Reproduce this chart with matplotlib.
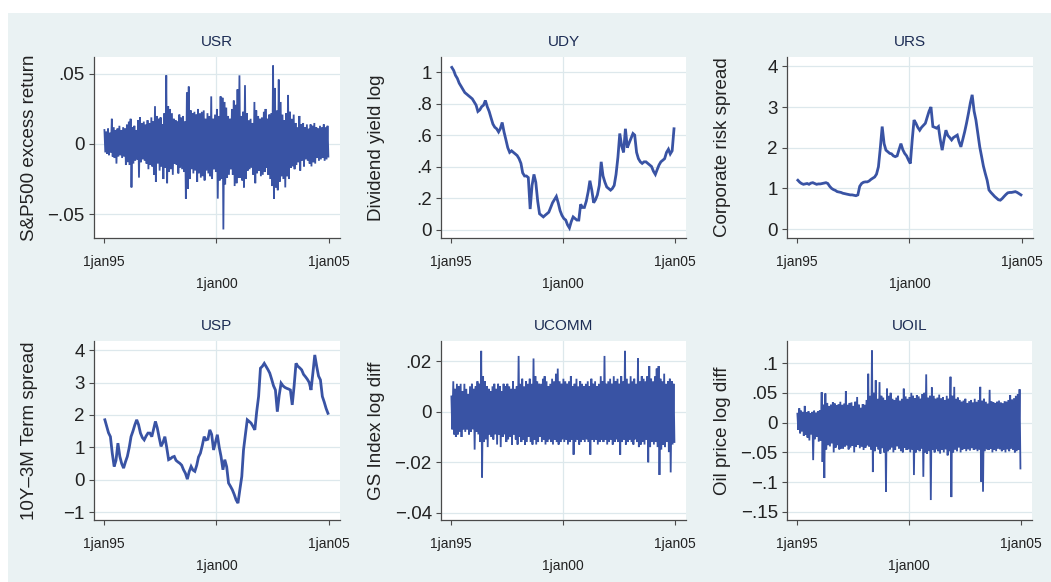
import numpy as np
import pandas as pd
import matplotlib
matplotlib.use('Agg')
import matplotlib.pyplot as plt
import matplotlib.dates as mdates
from matplotlib.patches import Rectangle

plt.rcParams['font.family'] = ['Liberation Sans', 'DejaVu Sans']

# monthly grid, jan 1995 .. dec 2004
months = pd.date_range('1995-01-01', periods=120, freq='MS')

# --- noisy series: monthly highest / lowest daily value ---
usr_hi = [0.010, 0.009, 0.011, 0.008, 0.018, 0.012, 0.010, 0.011, 0.013, 0.010, 0.012, 0.011,
          0.014, 0.016, 0.018, 0.012, 0.013, 0.010, 0.017, 0.019, 0.015, 0.016, 0.014, 0.017,
          0.015, 0.019, 0.016, 0.027, 0.020, 0.018, 0.019, 0.014, 0.022, 0.049, 0.027, 0.025,
          0.022, 0.018, 0.017, 0.016, 0.021, 0.019, 0.020, 0.016, 0.037, 0.041, 0.024, 0.022,
          0.023, 0.021, 0.025, 0.022, 0.023, 0.024, 0.018, 0.022, 0.020, 0.034, 0.018, 0.021,
          0.025, 0.020, 0.034, 0.033, 0.030, 0.026, 0.020, 0.018, 0.025, 0.031, 0.028, 0.039,
          0.049, 0.020, 0.023, 0.042, 0.022, 0.017, 0.018, 0.015, 0.030, 0.024, 0.020, 0.018,
          0.019, 0.023, 0.025, 0.018, 0.021, 0.022, 0.056, 0.040, 0.024, 0.046, 0.030, 0.021,
          0.017, 0.022, 0.035, 0.023, 0.018, 0.021, 0.015, 0.012, 0.020, 0.014, 0.015, 0.012,
          0.014, 0.011, 0.014, 0.013, 0.015, 0.012, 0.011, 0.013, 0.012, 0.014, 0.012, 0.013]
usr_lo = [-0.006, -0.007, -0.008, -0.006, -0.009, -0.010, -0.014, -0.009, -0.008, -0.010, -0.009, -0.015,
          -0.013, -0.015, -0.031, -0.014, -0.012, -0.011, -0.024, -0.013, -0.011, -0.012, -0.014, -0.018,
          -0.015, -0.016, -0.022, -0.027, -0.014, -0.019, -0.016, -0.025, -0.017, -0.028, -0.020, -0.018,
          -0.022, -0.014, -0.015, -0.021, -0.017, -0.018, -0.020, -0.039, -0.032, -0.025, -0.018, -0.021,
          -0.019, -0.027, -0.021, -0.024, -0.023, -0.026, -0.019, -0.021, -0.023, -0.025, -0.018, -0.020,
          -0.039, -0.026, -0.025, -0.061, -0.029, -0.024, -0.022, -0.018, -0.022, -0.030, -0.028, -0.024,
          -0.024, -0.026, -0.031, -0.025, -0.019, -0.018, -0.017, -0.022, -0.028, -0.021, -0.019, -0.023,
          -0.022, -0.020, -0.017, -0.022, -0.025, -0.030, -0.039, -0.031, -0.033, -0.027, -0.023, -0.025,
          -0.031, -0.023, -0.025, -0.017, -0.016, -0.018, -0.015, -0.013, -0.019, -0.012, -0.016, -0.011,
          -0.012, -0.014, -0.016, -0.013, -0.014, -0.010, -0.012, -0.011, -0.010, -0.012, -0.011, -0.009]

ucomm_hi = [0.006, 0.012, 0.009, 0.011, 0.010, 0.011, 0.008, 0.011, 0.009, 0.007, 0.010, 0.011,
            0.009, 0.010, 0.012, 0.011, 0.024, 0.014, 0.012, 0.010, 0.009, 0.008, 0.010, 0.011,
            0.009, 0.011, 0.010, 0.008, 0.011, 0.010, 0.011, 0.010, 0.009, 0.012, 0.009, 0.010,
            0.022, 0.011, 0.013, 0.010, 0.012, 0.011, 0.013, 0.011, 0.021, 0.014, 0.012, 0.011,
            0.011, 0.013, 0.014, 0.012, 0.010, 0.011, 0.013, 0.012, 0.015, 0.017, 0.012, 0.011,
            0.013, 0.012, 0.011, 0.012, 0.014, 0.010, 0.011, 0.013, 0.010, 0.012, 0.011, 0.010,
            0.011, 0.012, 0.010, 0.013, 0.011, 0.012, 0.010, 0.011, 0.014, 0.012, 0.022, 0.011,
            0.012, 0.013, 0.011, 0.014, 0.012, 0.013, 0.011, 0.014, 0.012, 0.024, 0.013, 0.011,
            0.014, 0.012, 0.013, 0.011, 0.021, 0.012, 0.014, 0.013, 0.012, 0.014, 0.018, 0.013,
            0.012, 0.014, 0.017, 0.018, 0.013, 0.012, 0.015, 0.011, 0.012, 0.013, 0.012, 0.011]
ucomm_lo = [-0.007, -0.009, -0.010, -0.009, -0.008, -0.010, -0.007, -0.008, -0.007, -0.009, -0.008, -0.007,
            -0.015, -0.008, -0.009, -0.012, -0.026, -0.012, -0.011, -0.014, -0.009, -0.010, -0.011, -0.009,
            -0.013, -0.009, -0.014, -0.010, -0.009, -0.012, -0.011, -0.010, -0.013, -0.009, -0.011, -0.013,
            -0.010, -0.012, -0.011, -0.013, -0.012, -0.010, -0.012, -0.013, -0.011, -0.013, -0.012, -0.010,
            -0.012, -0.011, -0.013, -0.012, -0.011, -0.012, -0.013, -0.011, -0.012, -0.013, -0.012, -0.011,
            -0.012, -0.011, -0.013, -0.012, -0.011, -0.017, -0.012, -0.011, -0.013, -0.012, -0.011, -0.012,
            -0.011, -0.012, -0.017, -0.011, -0.012, -0.011, -0.013, -0.012, -0.011, -0.012, -0.011, -0.013,
            -0.012, -0.011, -0.013, -0.012, -0.011, -0.012, -0.017, -0.012, -0.011, -0.013, -0.012, -0.011,
            -0.012, -0.013, -0.011, -0.012, -0.014, -0.013, -0.012, -0.013, -0.011, -0.020, -0.014, -0.012,
            -0.013, -0.012, -0.014, -0.025, -0.015, -0.013, -0.014, -0.012, -0.016, -0.024, -0.013, -0.012]

uoil_hi = [0.015, 0.024, 0.020, 0.018, 0.028, 0.017, 0.019, 0.016, 0.018, 0.020, 0.017, 0.019,
           0.021, 0.051, 0.030, 0.049, 0.033, 0.028, 0.030, 0.034, 0.032, 0.029, 0.031, 0.035,
           0.030, 0.032, 0.053, 0.030, 0.033, 0.034, 0.028, 0.035, 0.043, 0.030, 0.025, 0.031,
           0.030, 0.038, 0.082, 0.045, 0.121, 0.050, 0.071, 0.040, 0.068, 0.045, 0.042, 0.038,
           0.057, 0.045, 0.050, 0.040, 0.038, 0.042, 0.045, 0.037, 0.040, 0.057, 0.044, 0.040,
           0.043, 0.050, 0.045, 0.041, 0.046, 0.044, 0.040, 0.048, 0.050, 0.081, 0.042, 0.045,
           0.059, 0.045, 0.040, 0.042, 0.047, 0.041, 0.043, 0.038, 0.045, 0.040, 0.077, 0.045,
           0.060, 0.040, 0.042, 0.038, 0.035, 0.037, 0.040, 0.033, 0.036, 0.038, 0.034, 0.040,
           0.035, 0.038, 0.060, 0.037, 0.040, 0.035, 0.032, 0.055, 0.036, 0.034, 0.033, 0.035,
           0.037, 0.034, 0.032, 0.036, 0.035, 0.038, 0.046, 0.039, 0.041, 0.045, 0.048, 0.056]
uoil_lo = [-0.012, -0.018, -0.015, -0.022, -0.020, -0.025, -0.030, -0.020, -0.063, -0.028, -0.024, -0.032,
           -0.030, -0.066, -0.093, -0.045, -0.038, -0.040, -0.035, -0.050, -0.042, -0.038, -0.045, -0.044,
           -0.044, -0.040, -0.038, -0.045, -0.042, -0.039, -0.050, -0.041, -0.037, -0.043, -0.040, -0.046,
           -0.042, -0.038, -0.040, -0.045, -0.083, -0.048, -0.040, -0.045, -0.052, -0.043, -0.050, -0.116,
           -0.048, -0.045, -0.042, -0.050, -0.046, -0.040, -0.044, -0.048, -0.050, -0.042, -0.046, -0.045,
           -0.050, -0.045, -0.088, -0.050, -0.046, -0.048, -0.044, -0.091, -0.050, -0.052, -0.048, -0.130,
           -0.046, -0.050, -0.045, -0.048, -0.052, -0.046, -0.050, -0.045, -0.055, -0.048, -0.125, -0.050,
           -0.045, -0.048, -0.042, -0.050, -0.046, -0.044, -0.048, -0.045, -0.047, -0.043, -0.046, -0.045,
           -0.048, -0.045, -0.099, -0.116, -0.048, -0.045, -0.046, -0.044, -0.050, -0.046, -0.048, -0.044,
           -0.045, -0.048, -0.046, -0.050, -0.045, -0.048, -0.044, -0.046, -0.050, -0.048, -0.046, -0.077]

# --- smooth series: monthly level ---
udy = [1.03, 1.01, 0.98, 0.96, 0.93, 0.91, 0.89, 0.87, 0.86, 0.85, 0.84, 0.83,
       0.81, 0.79, 0.75, 0.76, 0.78, 0.79, 0.82, 0.78, 0.75, 0.71, 0.67, 0.65,
       0.64, 0.62, 0.64, 0.68, 0.62, 0.57, 0.52, 0.49, 0.50, 0.49, 0.48, 0.47,
       0.45, 0.42, 0.36, 0.34, 0.34, 0.33, 0.13, 0.28, 0.35, 0.30, 0.18, 0.10,
       0.09, 0.08, 0.09, 0.10, 0.11, 0.14, 0.17, 0.19, 0.21, 0.17, 0.12, 0.09,
       0.07, 0.06, 0.03, 0.01, 0.05, 0.08, 0.07, 0.06, 0.06, 0.16, 0.14, 0.14,
       0.18, 0.24, 0.31, 0.25, 0.17, 0.19, 0.22, 0.28, 0.43, 0.34, 0.30, 0.27,
       0.26, 0.25, 0.26, 0.28, 0.35, 0.46, 0.61, 0.53, 0.49, 0.64, 0.52, 0.55,
       0.58, 0.61, 0.60, 0.49, 0.45, 0.43, 0.42, 0.43, 0.43, 0.42, 0.41, 0.40,
       0.37, 0.35, 0.38, 0.41, 0.43, 0.44, 0.45, 0.49, 0.51, 0.48, 0.50, 0.64]

urs = [1.20, 1.15, 1.12, 1.10, 1.11, 1.12, 1.10, 1.13, 1.14, 1.12, 1.10, 1.11,
       1.11, 1.12, 1.13, 1.14, 1.12, 1.05, 1.00, 0.97, 0.95, 0.92, 0.91, 0.90,
       0.88, 0.87, 0.86, 0.85, 0.84, 0.84, 0.83, 0.82, 0.84, 1.05, 1.12, 1.15,
       1.16, 1.16, 1.18, 1.22, 1.25, 1.28, 1.35, 1.53, 2.00, 2.52, 2.10, 1.94,
       1.90, 1.86, 1.85, 1.80, 1.78, 1.80, 1.95, 2.10, 1.95, 1.86, 1.80, 1.70,
       1.61, 2.20, 2.68, 2.60, 2.50, 2.43, 2.50, 2.55, 2.60, 2.75, 2.90, 3.00,
       2.52, 2.50, 2.48, 2.52, 2.20, 1.94, 2.20, 2.43, 2.30, 2.25, 2.19, 2.25,
       2.28, 2.31, 2.15, 2.02, 2.20, 2.39, 2.60, 2.84, 3.10, 3.30, 2.90, 2.68,
       2.35, 2.02, 1.80, 1.55, 1.37, 1.20, 0.96, 0.90, 0.85, 0.80, 0.76, 0.72,
       0.71, 0.75, 0.80, 0.85, 0.89, 0.90, 0.90, 0.91, 0.92, 0.90, 0.87, 0.84]

usp = [1.85, 1.64, 1.45, 1.33, 0.82, 0.41, 0.60, 1.13, 0.72, 0.50, 0.36, 0.55,
       0.72, 1.00, 1.33, 1.50, 1.69, 1.85, 1.70, 1.44, 1.30, 1.23, 1.35, 1.44,
       1.44, 1.33, 1.55, 1.80, 1.60, 1.30, 1.03, 1.15, 1.33, 1.00, 0.62, 0.65,
       0.70, 0.72, 0.60, 0.55, 0.51, 0.45, 0.31, 0.20, 0.02, 0.25, 0.41, 0.30,
       0.26, 0.45, 0.70, 0.82, 1.05, 1.33, 1.23, 1.25, 1.54, 1.40, 0.92, 1.15,
       1.39, 1.00, 0.72, 0.31, 0.62, 0.40, -0.10, -0.20, -0.31, -0.45, -0.62, -0.72,
       -0.30, 0.10, 0.92, 1.40, 1.85, 1.80, 1.75, 1.65, 1.54, 2.10, 2.57, 3.44,
       3.50, 3.59, 3.50, 3.40, 3.29, 3.10, 2.90, 2.77, 2.10, 2.60, 2.98, 2.90,
       2.85, 2.82, 2.80, 2.77, 2.31, 2.90, 3.59, 3.50, 3.45, 3.39, 3.25, 3.18,
       3.10, 3.00, 2.77, 3.30, 3.85, 3.50, 3.20, 3.08, 2.57, 2.40, 2.20, 2.05]

titles = ['USR', 'UDY', 'URS', 'USP', 'UCOMM', 'UOIL']
ylabels = ['S&P500 excess return', 'Dividend yield log', 'Corporate risk spread',
           '10Y\u20133M Term spread', 'GS Index log diff', 'Oil price log diff']
yticks = [[0.05, 0, -0.05], [1, 0.8, 0.6, 0.4, 0.2, 0], [4, 3, 2, 1, 0],
          [4, 3, 2, 1, 0, -1], [0.02, 0, -0.02, -0.04], [0.1, 0.05, 0, -0.05, -0.1, -0.15]]
ytick_labels = [['.05', '0', '\u2212.05'], ['1', '.8', '.6', '.4', '.2', '0'],
                ['4', '3', '2', '1', '0'], ['4', '3', '2', '1', '0', '\u22121'],
                ['.02', '0', '\u2212.02', '\u2212.04'],
                ['.1', '.05', '0', '\u2212.05', '\u2212.1', '\u2212.15']]
ylims = [(-0.0671, 0.0621), (-0.054, 1.096), (-0.22, 4.23),
         (-1.24, 4.28), (-0.0428, 0.0279), (-0.1635, 0.137)]
xtick_dates = ['1995-01-01', '2000-01-01', '2005-01-01']
xtick_labels = ['1jan95', '\n1jan00', '1jan05']

line_col = '#3953a4'
bg_col = '#eaf2f3'
grid_col = '#dde8ec'

W, H = 1051, 582
fig = plt.figure(figsize=(W / 100, H / 100), dpi=100, facecolor='white')
fig.patches.append(Rectangle((8 / W, 0), 1 - 8 / W, 1 - 13 / H, transform=fig.transFigure,
                             facecolor=bg_col, edgecolor='none', zorder=-10))

# axes boxes in pixels: (left, top, right, bottom)
boxes = [(94, 57, 340, 238), (441, 57, 686, 238), (787, 57, 1033, 238),
         (94, 341, 340, 520), (441, 341, 686, 520), (787, 341, 1032, 520)]


def zigzag(hi, lo):
    x_hi = mdates.date2num(months + pd.Timedelta(days=7))
    x_lo = mdates.date2num(months + pd.Timedelta(days=21))
    x = np.column_stack([x_hi, x_lo]).ravel()
    y = np.column_stack([hi, lo]).ravel()
    return x, y


mx = mdates.date2num(months + pd.Timedelta(days=14))
series = [zigzag(usr_hi, usr_lo), (mx, udy), (mx, urs),
          (mx, usp), zigzag(ucomm_hi, ucomm_lo), zigzag(uoil_hi, uoil_lo)]
widths = [1.3, 2.0, 2.0, 2.0, 1.3, 1.3]

xt = mdates.date2num(pd.to_datetime(xtick_dates))
span = xt[2] - xt[0]
xlim = (xt[0] - span * 10 / 225, xt[2] + span * 11 / 225)

for i in range(6):
    l, t, r, b = boxes[i]
    ax = fig.add_axes([l / W, 1 - b / H, (r - l) / W, (b - t) / H])
    ax.set_facecolor('white')
    x, y = series[i]
    ax.plot(x, y, color=line_col, lw=widths[i], solid_joinstyle='miter', zorder=3)

    ax.set_xlim(xlim)
    ax.set_ylim(ylims[i])
    ax.set_yticks(yticks[i])
    ax.set_yticklabels(ytick_labels[i])
    ax.set_xticks(xt)
    ax.set_xticklabels(xtick_labels)
    for lab in ax.get_xticklabels():
        lab.set_linespacing(1.7)

    for yv in yticks[i]:
        ax.axhline(yv, color=grid_col, lw=0.9, zorder=1)
    ax.axvline(xt[1], color=grid_col, lw=0.9, zorder=1)

    for s in ['top', 'right']:
        ax.spines[s].set_visible(False)
    for s in ['left', 'bottom']:
        ax.spines[s].set_color('#4a4a4a')
        ax.spines[s].set_linewidth(0.9)
    ax.tick_params(axis='y', direction='out', length=3.6, width=0.8, color='#4a4a4a',
                   labelsize=13.5, labelcolor='#222222', pad=3)
    ax.tick_params(axis='x', direction='out', length=3.6, width=0.8, color='#4a4a4a',
                   labelsize=10, labelcolor='#222222', pad=8.5)

    ax.set_title(titles[i], fontsize=11, color='#1c2c54', pad=8)
    ax.set_ylabel(ylabels[i], fontsize=13.5, color='#222222')
    ax.yaxis.set_label_coords(-(66 - 10) / (r - l), 0.5)

fig.savefig('out.png', dpi=100, facecolor='white')
